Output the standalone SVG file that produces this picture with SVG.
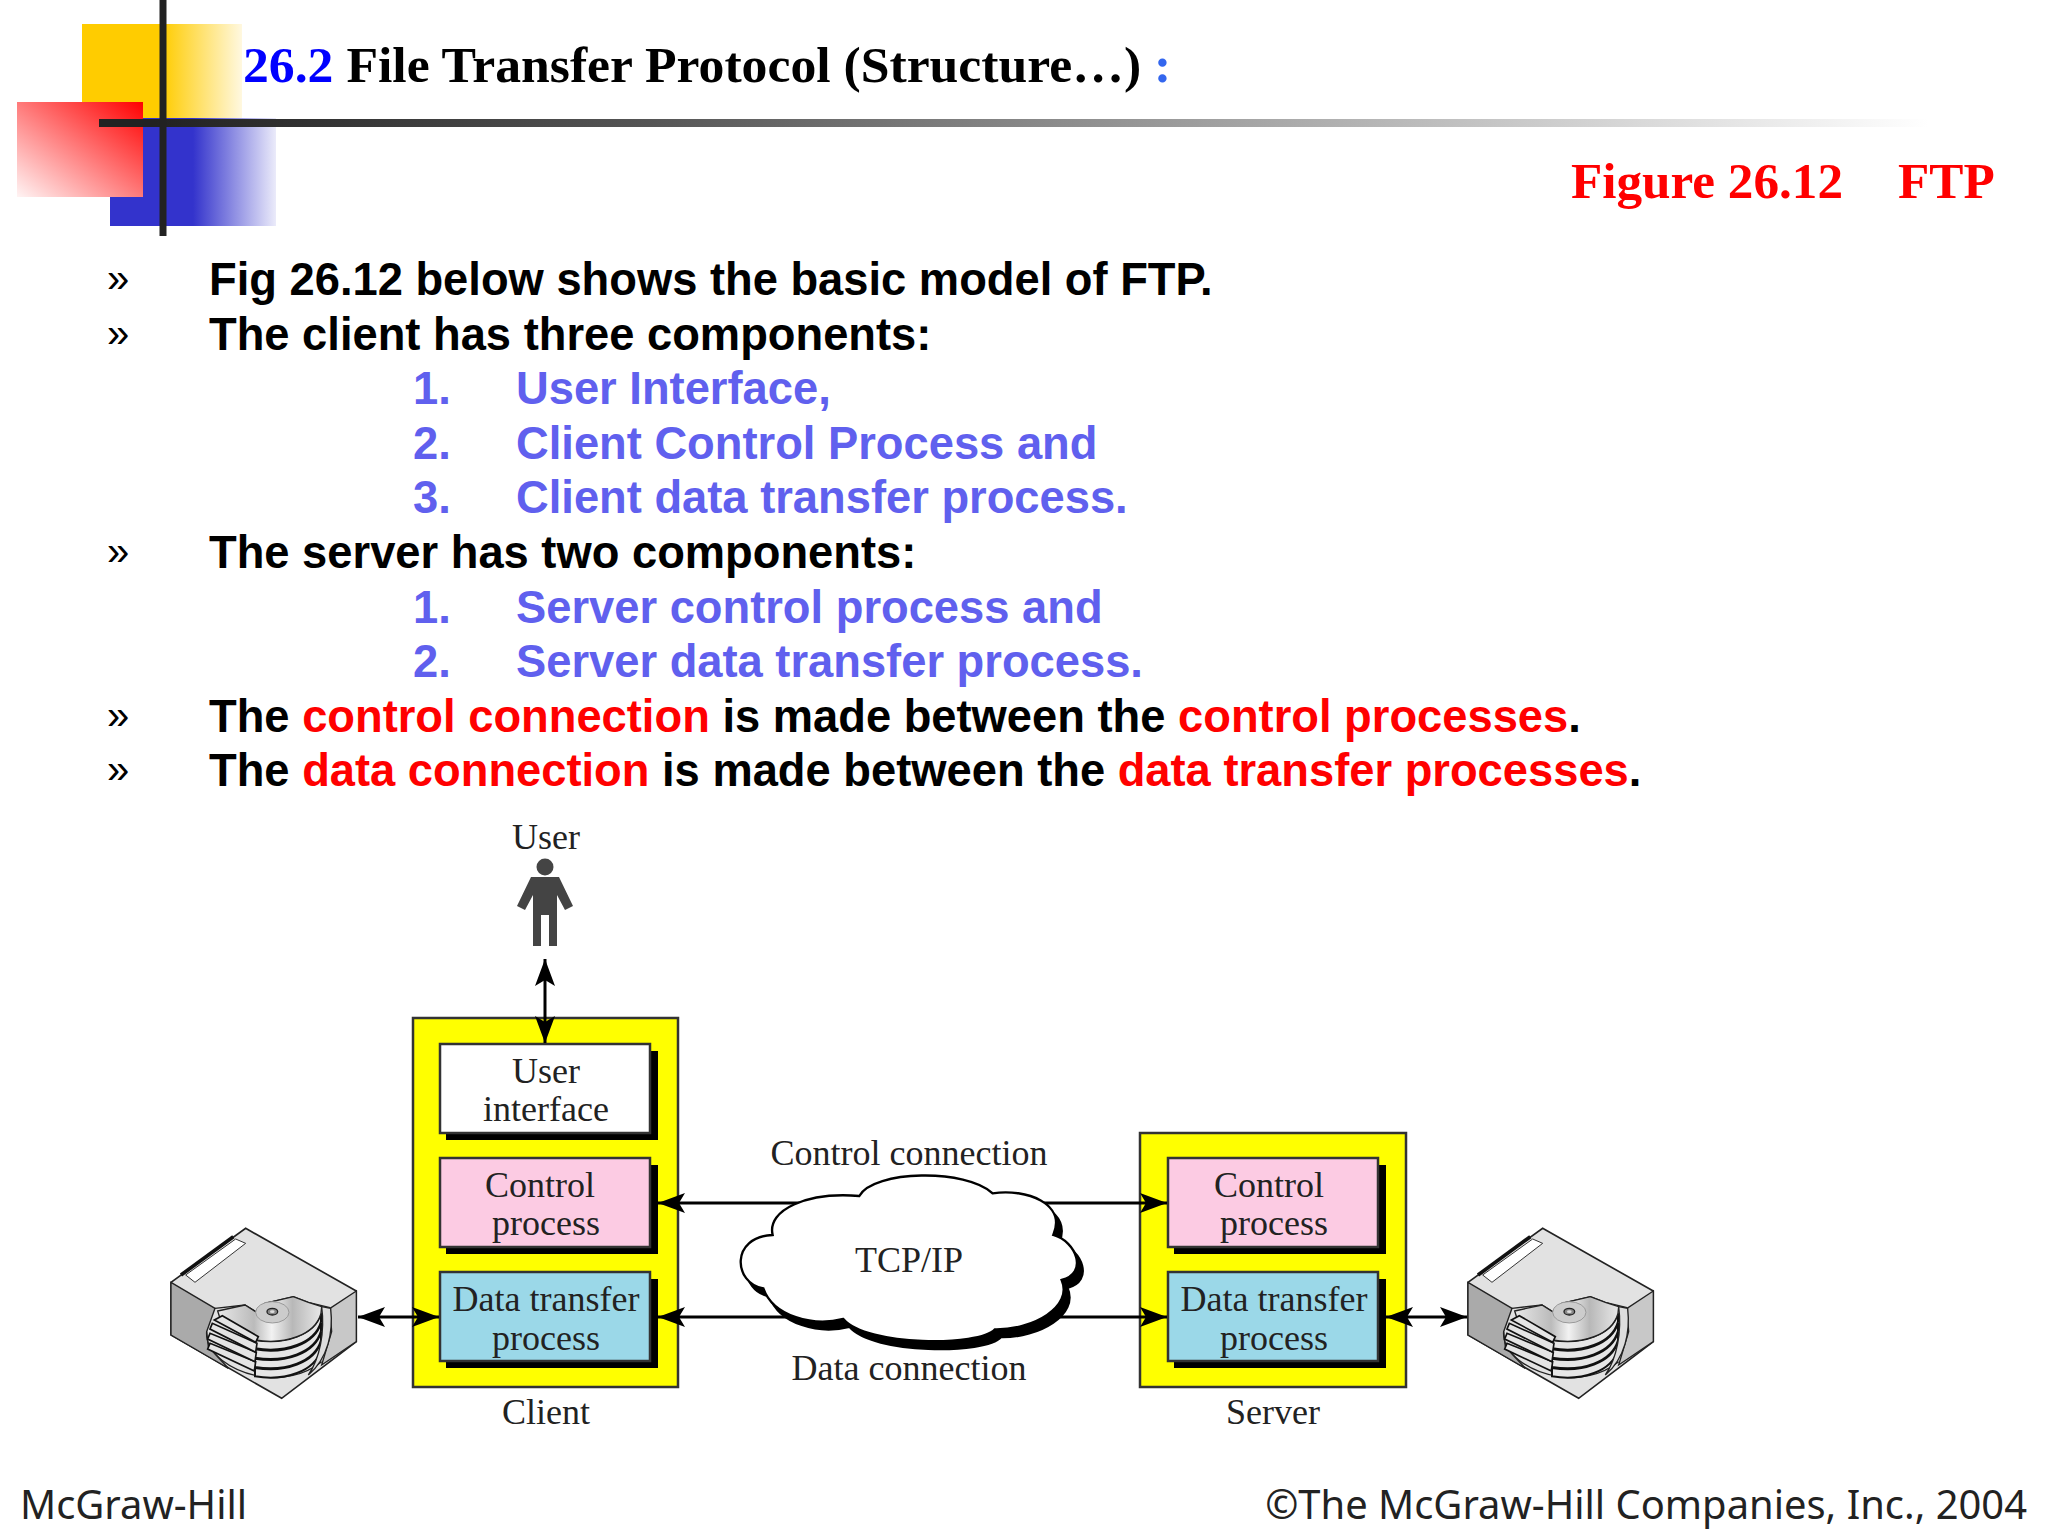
<svg xmlns="http://www.w3.org/2000/svg" xmlns:xlink="http://www.w3.org/1999/xlink" width="2048" height="1536" viewBox="0 0 2048 1536">
<style>
.t{font-family:"Liberation Serif",serif;font-weight:bold;font-size:51.7px}
.fg{font-size:51.2px}
.b{font-family:"Liberation Sans",Arial,sans-serif;font-weight:bold;font-size:45.3px;fill:#000}
.m{font-family:"Liberation Sans",Arial,sans-serif;font-size:40px;fill:#000}
.bl{fill:#6060ee}
.r{fill:#ff0000}
.d{font-family:"Liberation Serif",serif;font-size:36px;fill:#222;text-anchor:middle}
.f{font-family:"Noto Sans",sans-serif;font-size:39.9px;fill:#222}
.outer{fill:#ffff00;stroke:#333;stroke-width:2.5}
.box{stroke:#333;stroke-width:2.5}
.sh{fill:#000}
.c{stroke:#000;stroke-width:3;fill:none;marker-start:url(#ah);marker-end:url(#ah)}
.pl{fill:#e6e6e6;stroke:#111;stroke-width:6}
.arm{fill:#e4e4e4;stroke:#111;stroke-width:5}
</style>
<defs>
<linearGradient id="gy" x1="0" x2="1" y1="0" y2="0"><stop offset="0.5" stop-color="#ffcc00"/><stop offset="1" stop-color="#fff8e0"/></linearGradient>
<linearGradient id="gb" x1="0" x2="1" y1="0" y2="0"><stop offset="0.5" stop-color="#3333cc"/><stop offset="1" stop-color="#ebebfa"/></linearGradient>
<linearGradient id="gr" x1="1" x2="0" y1="0" y2="1"><stop offset="0" stop-color="#ff0000"/><stop offset="1" stop-color="#fff4f4"/></linearGradient>
<linearGradient id="gh" x1="0" x2="1" y1="0" y2="0"><stop offset="0.03" stop-color="#222"/><stop offset="0.3" stop-color="#555"/><stop offset="1" stop-color="#fff"/></linearGradient>
<linearGradient id="gp" x1="0" x2="1" y1="0" y2="0"><stop offset="0" stop-color="#e8e8e8"/><stop offset="0.35" stop-color="#bbb"/><stop offset="0.52" stop-color="#f2f2f2"/><stop offset="0.72" stop-color="#b8b8b8"/><stop offset="1" stop-color="#e8e8e8"/></linearGradient>
<marker id="ah" markerUnits="userSpaceOnUse" markerWidth="30" markerHeight="22" refX="28" refY="10" orient="auto-start-reverse"><path d="M1,0 L28,10 L1,20 L7,10 Z" fill="#000"/></marker>
<g id="disk" transform="translate(165,1225) scale(0.3333)">
<path d="M18,172 L242,10 L574,198 L574,350 L350,520 L18,330 Z" fill="#e2e2e2" stroke="#222" stroke-width="5"/>
<path d="M18,172 L150,250 L125,320 L130,365 L190,430 L18,330 Z" fill="#aaa" stroke="#222" stroke-width="4"/>
<path d="M574,198 L495,250 L500,320 L470,420 L574,350 Z" fill="#c8c8c8" stroke="#222" stroke-width="4"/>
<path d="M125,320 C120,385 200,440 290,455 C350,465 420,450 470,410" fill="none" stroke="#222" stroke-width="4"/>
<path d="M150,250 L240,240 L275,262 L300,235 L385,215 L430,232 L495,248" fill="none" stroke="#222" stroke-width="4"/>
<path class="pl" transform="translate(0,84)" d="M270,345 C360,360 450,330 468,265 L468,290 C450,355 360,385 270,370 Z"/>
<path class="pl" transform="translate(0,56)" d="M270,345 C360,360 450,330 468,265 L468,290 C450,355 360,385 270,370 Z"/>
<path class="pl" transform="translate(0,28)" d="M270,345 C360,360 450,330 468,265 L468,290 C450,355 360,385 270,370 Z"/>
<path class="pl" d="M270,345 C360,360 450,330 468,265 L468,290 C450,355 360,385 270,370 Z"/>
<path d="M158,258 L240,240 L275,262 L300,235 L385,215 L430,232 L470,245 L468,265 C450,330 360,360 270,345 L165,280 Z" fill="url(#gp)" stroke="#222" stroke-width="4"/>
<path class="arm" d="M128,372 L135,355 L272,410 L268,438 Z"/>
<path class="arm" d="M128,342 L135,325 L274,382 L270,410 Z"/>
<path class="arm" d="M135,312 L142,295 L276,355 L272,382 Z"/>
<path class="arm" d="M148,285 L172,272 L280,335 L272,352 Z"/>
<ellipse cx="322" cy="262" rx="50" ry="32" fill="#ccc" stroke="#999" stroke-width="3"/>
<ellipse cx="322" cy="260" rx="16" ry="10" fill="#888" stroke="#222" stroke-width="4"/>
<ellipse cx="322" cy="260" rx="7" ry="4" fill="#ddd"/>
<path d="M470,245 L497,250 C505,320 490,400 430,450 C465,400 480,320 470,245 Z" fill="#ddd" stroke="#222" stroke-width="4"/>
<path d="M62,150 L212,42 L242,55 L90,172 Z" fill="#fff" stroke="#333" stroke-width="3"/>
<path d="M48,150 L205,35" stroke="#111" stroke-width="11" fill="none"/>
</g>
</defs>
<rect width="2048" height="1536" fill="#fff"/>
<g id="logo">
<rect x="82" y="24" width="160" height="105" fill="url(#gy)"/>
<rect x="110" y="118" width="166" height="108" fill="url(#gb)"/>
<rect x="17" y="102" width="126" height="95" fill="url(#gr)"/>
<rect x="99" y="119" width="1830" height="8" fill="url(#gh)"/>
<rect x="159.500" y="0" width="7" height="236" fill="#222"/>
</g>
<g id="heading">
<text class="t" x="243" y="82"><tspan fill="#0000ff">26.2</tspan><tspan fill="#000"> File Transfer Protocol (Structure…)</tspan><tspan fill="#3366ee"> :</tspan></text>
<text class="t fg r" x="1571" y="198">Figure 26.12</text>
<text class="t fg r" x="1898" y="198">FTP</text>
</g>
<g id="bullets">
<text class="m" x="107" y="292">»</text><text class="b" x="209" y="295">Fig 26.12 below shows the basic model of FTP.</text>
<text class="m" x="107" y="346.600">»</text><text class="b" x="209" y="349.600">The client has three components:</text>
<text class="b bl" x="413" y="404.200">1.</text><text class="b bl" x="516" y="404.200">User Interface,</text>
<text class="b bl" x="413" y="458.800">2.</text><text class="b bl" x="516" y="458.800">Client Control Process and</text>
<text class="b bl" x="413" y="513.400">3.</text><text class="b bl" x="516" y="513.400">Client data transfer process.</text>
<text class="m" x="107" y="565">»</text><text class="b" x="209" y="568">The server has two components:</text>
<text class="b bl" x="413" y="622.600">1.</text><text class="b bl" x="516" y="622.600">Server control process and</text>
<text class="b bl" x="413" y="677.200">2.</text><text class="b bl" x="516" y="677.200">Server data transfer process.</text>
<text class="m" x="107" y="728.800">»</text><text class="b" x="209" y="731.800">The <tspan class="r">control connection</tspan> is made between the <tspan class="r">control processes</tspan>.</text>
<text class="m" x="107" y="783.400">»</text><text class="b" x="209" y="786.400">The <tspan class="r">data connection</tspan> is made between the <tspan class="r">data transfer processes</tspan>.</text>
</g>
<g id="user">
<text class="d" x="546" y="848.500">User</text>
<circle cx="545" cy="867" r="8.500" fill="#444"/>
<path d="M531,877 L559,877 L573,906 L565,910 L557,895 L557,946 L549,946 L549,915 L541,915 L541,946 L533,946 L533,895 L525,910 L517,906 Z" fill="#444"/>
</g>
<g id="client">
<rect class="outer" x="413" y="1018" width="265" height="369"/>
<g id="client-ui"><rect class="sh" x="446" y="1051" width="212" height="89"/><rect class="box" x="440" y="1044" width="210" height="89" fill="#fff"/>
<text class="d" x="546" y="1082.500">User</text><text class="d" x="546" y="1120.500">interface</text></g>
<g id="client-control"><rect class="sh" x="446" y="1165" width="212" height="89"/><rect class="box" x="440" y="1158" width="210" height="89" fill="#fccbe3"/>
<text class="d" x="540" y="1196.500">Control</text><text class="d" x="546" y="1234.500">process</text></g>
<g id="client-data"><rect class="sh" x="446" y="1279" width="212" height="89"/><rect class="box" x="440" y="1272" width="210" height="89" fill="#9bd8e8"/>
<text class="d" x="546" y="1310.500">Data transfer</text><text class="d" x="546" y="1349.500">process</text></g>
<text class="d" x="546" y="1423.500">Client</text>
</g>
<g id="server">
<rect class="outer" x="1140" y="1133" width="266" height="254"/>
<g id="server-control"><rect class="sh" x="1174" y="1165" width="212" height="89"/><rect class="box" x="1168" y="1158" width="210" height="89" fill="#fccbe3"/>
<text class="d" x="1269" y="1196.500">Control</text><text class="d" x="1274" y="1234.500">process</text></g>
<g id="server-data"><rect class="sh" x="1174" y="1279" width="212" height="89"/><rect class="box" x="1168" y="1272" width="210" height="89" fill="#9bd8e8"/>
<text class="d" x="1274" y="1310.500">Data transfer</text><text class="d" x="1274" y="1349.500">process</text></g>
<text class="d" x="1273" y="1423.500">Server</text>
</g>
<g id="connectors">
<line class="c" x1="545" y1="959" x2="545" y2="1043"/>
<line class="c" x1="658" y1="1203" x2="1167" y2="1203"/>
<line class="c" x1="658" y1="1317" x2="1167" y2="1317"/>
<line class="c" x1="358" y1="1317" x2="439" y2="1317"/>
<line class="c" x1="1386" y1="1317" x2="1467" y2="1317"/>
</g>
<g id="disk-client"><use xlink:href="#disk" href="#disk"/></g>
<g id="disk-server"><use xlink:href="#disk" href="#disk" transform="translate(1297,0)"/></g>
<g id="cloud">
<g transform="translate(700,1120) scale(0.3333)">
<path transform="translate(18,24)" fill="#000" stroke="#000" stroke-width="6" d="M478,228 C520,150 800,145 878,220 C980,205 1100,250 1060,345 C1130,365 1165,460 1085,480 C1120,560 1000,630 885,628 C840,680 500,680 430,597 C340,620 220,590 190,505 C100,490 90,350 218,345 C200,270 320,215 478,228 Z"/>
<path fill="#fff" stroke="#000" stroke-width="7" d="M478,228 C520,150 800,145 878,220 C980,205 1100,250 1060,345 C1130,365 1165,460 1085,480 C1120,560 1000,630 885,628 C840,680 500,680 430,597 C340,620 220,590 190,505 C100,490 90,350 218,345 C200,270 320,215 478,228 Z"/>
</g>
<text class="d" x="909" y="1164.500">Control connection</text>
<text class="d" x="909" y="1272">TCP/IP</text>
<text class="d" x="909" y="1379.500">Data connection</text>
</g>
<g id="footer">
<text class="f" x="20" y="1519">McGraw-Hill</text>
<text class="f" x="2027" y="1519" text-anchor="end">©The McGraw-Hill Companies, Inc., 2004</text>
</g>
</svg>
